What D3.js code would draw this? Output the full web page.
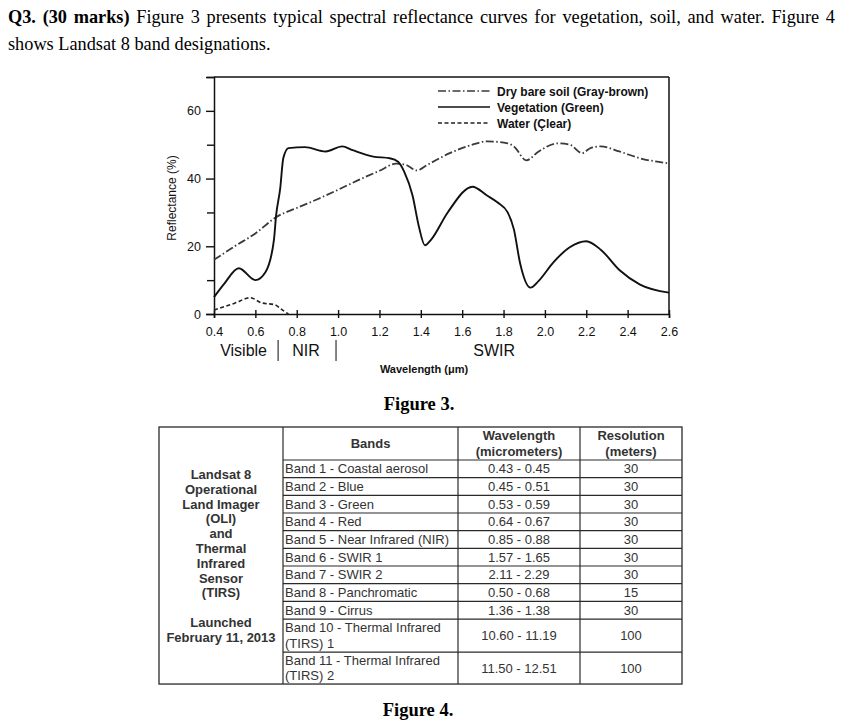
<!DOCTYPE html>
<html><head><meta charset="utf-8">
<script src="https://cdn.jsdelivr.net/npm/d3@7"></script>
<style>body{margin:0;background:#fff}svg{display:block}</style>
</head><body>
<svg id="c" width="851" height="726"></svg>
<script>
// ---------- DATA ----------
const seriesNames = ["Dry bare soil (Gray-brown)", "Vegetation (Green)", "Water (Çlear)"];
const soilWl  = [0.40,0.50,0.60,0.70,0.80,0.90,1.00,1.10,1.20,1.28,1.33,1.38,1.43,1.54,1.65,1.72,1.82,1.85,1.91,1.97,2.06,2.12,2.18,2.22,2.27,2.36,2.46,2.60];
const soilR   = [16,20,23.8,28.6,31.3,33.9,36.7,39.6,42.3,44.4,44,42.4,44,47.5,50,51,50.4,49.5,45.4,48,50.4,50,47.5,49,49.5,48,46,44.5];
const vegWl   = [0.40,0.45,0.52,0.60,0.65,0.69,0.70,0.72,0.735,0.76,0.84,0.94,1.02,1.07,1.17,1.25,1.29,1.32,1.36,1.39,1.42,1.45,1.53,1.65,1.72,1.77,1.82,1.85,1.88,1.93,1.97,2.04,2.12,2.20,2.27,2.36,2.46,2.60];
const vegR    = [5,9,13.5,10,12.5,22,29,37,46,49,49.3,48,49.5,48.4,46.5,46,45,42,35,26,20.3,22,30,37.6,35,33,30,25,15,7.8,9.8,15.2,19.7,21.5,19,13,8.7,6.3];
const waterWl = [0.40,0.50,0.575,0.63,0.695,0.73,0.76];
const waterR  = [1.2,3.2,4.8,3.3,2.7,1.2,0];
const xTicks = [0.4,0.6,0.8,1.0,1.2,1.4,1.6,1.8,2.0,2.2,2.4,2.6];
const yTicks = [0,20,40,60];
const yMinorTicks = [10,30,50,70];

const bands = ["Band 1 - Coastal aerosol","Band 2 - Blue","Band 3 - Green","Band 4 - Red","Band 5 - Near Infrared (NIR)","Band 6 - SWIR 1","Band 7 - SWIR 2","Band 8 - Panchromatic","Band 9 - Cirrus","Band 10 - Thermal Infrared|(TIRS) 1","Band 11 - Thermal Infrared|(TIRS) 2"];
const wavelengths = ["0.43 - 0.45","0.45 - 0.51","0.53 - 0.59","0.64 - 0.67","0.85 - 0.88","1.57 - 1.65","2.11 - 2.29","0.50 - 0.68","1.36 - 1.38","10.60 - 11.19","11.50 - 12.51"];
const resolutions = ["30","30","30","30","30","30","30","15","30","100","100"];
const headers = ["Bands","Wavelength|(micrometers)","Resolution|(meters)"];
const sideText = ["Landsat 8","Operational","Land Imager","(OLI)","and","Thermal","Infrared","Sensor","(TIRS)","","Launched","February 11, 2013"];

// ---------- PAGE ----------
const svg = d3.select("#c");
const serif = "'Liberation Serif','Times New Roman',serif";
const sans = "'Liberation Sans',Arial,Helvetica,sans-serif";

const line1 = [["Q3.",1],["(30",1],["marks)",1]].concat(
  "Figure 3 presents typical spectral reflectance curves for vegetation, soil, and water. Figure 4".split(" ").map(w=>[w,0]));
const qLeft = 8, qRight = 835, qSize = 18.3;
const wEls = line1.map(([w,b]) => svg.append("text").attr("y",22.5).attr("font-family",serif)
  .attr("font-size",qSize).attr("font-weight",b?"bold":"normal").text(w));
const widths = wEls.map(e=>e.node().getComputedTextLength());
const gap = (qRight-qLeft-d3.sum(widths))/(widths.length-1);
let cx = qLeft;
wEls.forEach((e,i)=>{ e.attr("x",cx); cx += widths[i]+gap; });
svg.append("text").attr("x",qLeft).attr("y",49.5).attr("font-family",serif).attr("font-size",qSize)
  .text("shows Landsat 8 band designations.");

// ---------- CHART ----------
const x = d3.scaleLinear().domain([0.4,2.6]).range([214,669]);
const y = d3.scaleLinear().domain([0,70]).range([314,77]);
const g = svg.append("g");

g.append("line").attr("x1",x(0.4)).attr("x2",x(2.6)).attr("y1",y(70)).attr("y2",y(70)).attr("stroke","#111").attr("stroke-width",1.5);
g.append("line").attr("x1",x(2.6)).attr("x2",x(2.6)).attr("y1",y(70)).attr("y2",y(0)).attr("stroke","#111").attr("stroke-width",1.5);

g.append("g").attr("transform",`translate(${x(0.4)},0)`)
  .call(d3.axisLeft(y).tickValues(yTicks).tickSize(8).tickPadding(5).tickFormat(d3.format("d")));
g.append("g").attr("transform",`translate(${x(0.4)},0)`)
  .call(d3.axisLeft(y).tickValues(yMinorTicks).tickSize(7).tickFormat(""))
  .select(".domain").remove();
const xAxis = g.append("g").attr("transform",`translate(0,${y(0)})`)
  .call(d3.axisBottom(x).tickValues(xTicks).tickSize(4).tickPadding(9).tickFormat(d3.format(".1f")));
xAxis.selectAll(".tick line").attr("y1",-4);
g.selectAll(".domain").attr("stroke","#111").attr("stroke-width",1.5);
g.selectAll(".tick line").attr("stroke","#111").attr("stroke-width",1.4);
g.selectAll(".tick text").attr("font-family",sans).attr("font-size",12.5).attr("fill","#111");
xAxis.selectAll(".tick text").attr("dy","0.71em");

const line = d3.line().x(d=>x(d[0])).y(d=>y(d[1])).curve(d3.curveMonotoneX);
const styles = [
  {wl:soilWl, r:soilR, dash:"8,2.5,1.5,2.5", color:"#3a3a3a", w:1.8},
  {wl:vegWl, r:vegR, dash:null, color:"#111", w:1.9},
  {wl:waterWl, r:waterR, dash:"4,2.5", color:"#222", w:1.6}
];
styles.forEach(s=>{
  g.append("path").datum(d3.zip(s.wl,s.r)).attr("d",line).attr("fill","none")
   .attr("stroke",s.color).attr("stroke-width",s.w).attr("stroke-dasharray",s.dash);
});

const legY = [91,107,123];
styles.forEach((s,i)=>{
  g.append("line").attr("x1",438).attr("x2",490).attr("y1",legY[i]).attr("y2",legY[i])
   .attr("stroke",s.color).attr("stroke-width",1.4).attr("stroke-dasharray",s.dash);
  g.append("text").attr("x",497).attr("y",legY[i]+4.5).attr("font-family",sans).attr("font-size",12)
   .attr("font-weight","bold").attr("fill","#111").text(seriesNames[i]);
});

g.append("text").attr("transform",`translate(176,198) rotate(-90)`).attr("text-anchor","middle")
  .attr("font-family",sans).attr("font-size",12).attr("fill","#111").text("Reflectance (%)");

const reg = g.append("g").attr("font-family",sans).attr("font-size",16).attr("fill","#111");
reg.append("text").attr("x",x(0.543)).attr("y",356).attr("text-anchor","middle").text("Visible");
reg.append("text").attr("x",x(0.845)).attr("y",356).attr("text-anchor","middle").text("NIR");
reg.append("text").attr("x",x(1.755)).attr("y",356).attr("text-anchor","middle").text("SWIR");
[0.71,0.99].forEach(w=> g.append("line").attr("x1",x(w)).attr("x2",x(w)).attr("y1",340).attr("y2",361)
  .attr("stroke","#333").attr("stroke-width",1.2));
g.append("text").attr("x",424).attr("y",373).attr("text-anchor","middle").attr("font-family",sans)
  .attr("font-size",11).attr("font-weight","bold").attr("fill","#111").text("Wavelength (μm)");

svg.append("text").attr("x",419).attr("y",410).attr("text-anchor","middle").attr("font-family",serif)
  .attr("font-size",18.5).attr("font-weight","bold").text("Figure 3.");

// ---------- TABLE ----------
const colX = [159,283,458,580,682];
const tTop = 427, headH = 33, rowH = 17.67, tallH = [33,32];
const rowY = [tTop+headH];
bands.forEach((b,i)=>{ const h = i<9 ? rowH : tallH[i-9]; rowY.push(rowY[i]+h); });
const tBottom = rowY[rowY.length-1];
const tb = svg.append("g");
const lc = "#2a2a2a";
tb.append("rect").attr("x",colX[0]).attr("y",tTop).attr("width",colX[4]-colX[0]).attr("height",tBottom-tTop)
  .attr("fill","none").attr("stroke",lc).attr("stroke-width",1.3);
colX.slice(1,4).forEach(c=> tb.append("line").attr("x1",c).attr("x2",c).attr("y1",tTop).attr("y2",tBottom).attr("stroke",lc).attr("stroke-width",1.2));
rowY.slice(0,-1).forEach(ry=> tb.append("line").attr("x1",colX[1]).attr("x2",colX[4]).attr("y1",ry).attr("y2",ry).attr("stroke",lc).attr("stroke-width",1.2));

function cellText(txt, x0, y0, h, anchor, bold){
  const lines = txt.split("|");
  const lh = 15.5;
  const start = y0 + h/2 - (lines.length-1)*lh/2 + 4.6;
  lines.forEach((t,k)=> tb.append("text").attr("x",x0).attr("y",start+k*lh).attr("text-anchor",anchor)
    .attr("font-family",sans).attr("font-size",13).attr("font-weight",bold?"bold":"normal").attr("fill","#333").text(t));
}
headers.forEach((h,j)=>{
  cellText(h, (colX[j+1]+colX[j+2])/2, tTop, headH, "middle", true);
});
bands.forEach((b,i)=>{
  const y0 = rowY[i], h = rowY[i+1]-rowY[i];
  cellText(b, colX[1]+2, y0, h, "start", false);
  cellText(wavelengths[i], (colX[2]+colX[3])/2, y0, h, "middle", false);
  cellText(resolutions[i], (colX[3]+colX[4])/2, y0, h, "middle", false);
});
sideText.forEach((t,k)=> tb.append("text").attr("x",(colX[0]+colX[1])/2).attr("y",479+k*14.8)
  .attr("text-anchor","middle").attr("font-family",sans).attr("font-size",13).attr("font-weight","bold")
  .attr("fill","#333").text(t));

svg.append("text").attr("x",418).attr("y",716).attr("text-anchor","middle").attr("font-family",serif)
  .attr("font-size",18.5).attr("font-weight","bold").text("Figure 4.");
</script>
</body></html>
